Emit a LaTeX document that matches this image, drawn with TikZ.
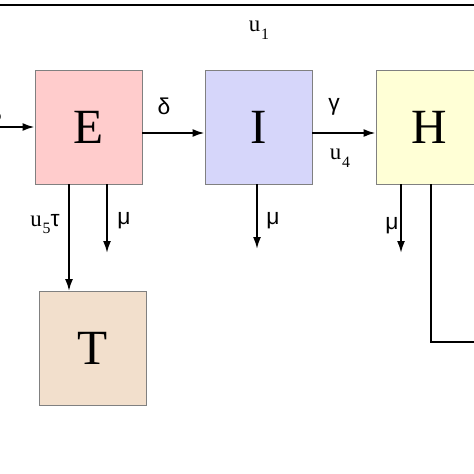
\documentclass[tikz,border=0pt]{standalone}
\usepackage{fontspec}
\setmainfont{Liberation Serif}
\newfontfamily\grego{Liberation Sans}
\usetikzlibrary{arrows.meta}

\definecolor{corE}{RGB}{255,204,204}
\definecolor{corI}{RGB}{214,214,250}
\definecolor{corH}{RGB}{255,255,214}
\definecolor{corT}{RGB}{242,223,204}

\newcommand{\lbsub}[1]{\kern0.5pt\raisebox{-0.75ex}{\fontsize{9}{9}\selectfont #1}}

\tikzset{
  caixa/.style={draw=gray, line width=0.5pt, minimum width=21.4mm, minimum height=22.8mm,
    inner sep=0pt, font=\fontsize{28}{30}\selectfont},
  lbl/.style={inner sep=0pt, font=\fontsize{13}{15}\selectfont},
  glbl/.style={inner sep=0pt, font=\grego\fontsize{13}{15}\selectfont},
  seta/.style={line width=1.1pt, -{Latex[length=2.4mm,width=1.6mm]}},
  linha/.style={line width=1.1pt}
}

\begin{document}
\begin{tikzpicture}[x=0.2mm,y=-0.2mm]

\useasboundingbox (0,0) rectangle (474,474);
\clip (0,0) rectangle (474,474);

% Caixas
\node[caixa, fill=corE] (E) at (88.5,127) {E};
\node[caixa, fill=corI] (I) at (258.5,127) {I};
\node[caixa, fill=corH] (H) at (429.5,127) {H};
\node[caixa, fill=corT] (T) at (92.5,348.5) {T};

% Pontos livres
\coordinate (ent) at (0,127);
\coordinate (topoA) at (0,5);
\coordinate (topoB) at (474,5);
\coordinate (mE) at (107,253);
\coordinate (mI) at (257,249);
\coordinate (mH) at (401,253);
\coordinate (hv) at (431,342);
\coordinate (hs) at (474,342);

% Linha de cima
\draw[linha] (topoA) -- (topoB);
\node[lbl] (u1) at (259,30) {u\lbsub{1}};

% Entrada em E
\draw[seta] (ent) -- (E.west);
\node[glbl, anchor=east] (beta) at (2,116) {β};

% Transicoes
\draw[seta] ([yshift=-1.2mm]E.east) -- ([yshift=-1.2mm]I.west);
\node[glbl] (delta) at (164,106) {δ};
\draw[seta] ([yshift=-1.2mm]I.east) -- ([yshift=-1.2mm]H.west);
\node[glbl] (gamma) at (334,107) {γ};
\node[lbl] (u4) at (340,158) {u\lbsub{4}};

% E para T
\draw[seta] ([xshift=-3.9mm]E.south) -- ([xshift=-3.9mm]E.south |- T.north);
\node[lbl] (u5) at (45,224) {u\lbsub{5}{\grego τ}};

% Mortes
\draw[seta] (E.south -| mE) -- (mE);
\node[glbl] (muE) at (124,221) {μ};
\draw[seta] (I.south -| mI) -- (mI);
\node[glbl] (muI) at (273,221) {μ};
\draw[seta] (H.south -| mH) -- (mH);
\node[glbl] (muH) at (392,226) {μ};

% Saida de H
\draw[linha] (H.south -| hv) -- (hv) -- (hs);

\end{tikzpicture}
\end{document}
